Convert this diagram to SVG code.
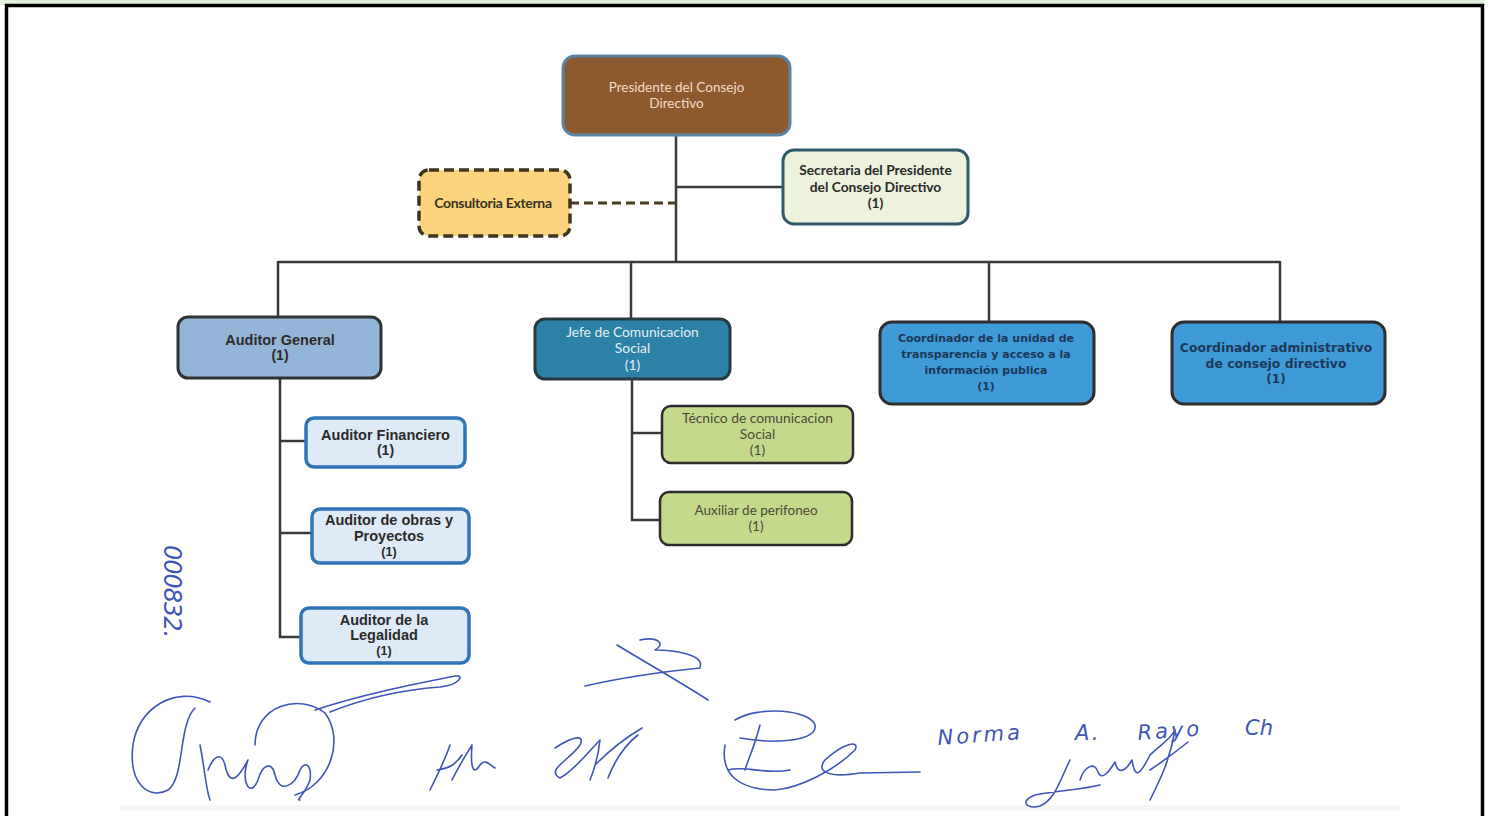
<svg xmlns="http://www.w3.org/2000/svg" width="1488" height="816" viewBox="0 0 1488 816">
<style>
.ln{stroke:#3a3a3a;stroke-width:2.5;fill:none}
.cal{font-family:Lato,"Open Sans","Liberation Sans",sans-serif;text-anchor:middle}
.ari{font-family:"Liberation Sans",Arial,sans-serif;font-weight:bold;text-anchor:middle;fill:#2b2b2b}
.dej{font-family:"DejaVu Sans",Verdana,sans-serif;font-weight:bold;text-anchor:middle;fill:#1d3857}
.pen{stroke:#3f55b8;stroke-width:1.6;fill:none;stroke-linecap:round;stroke-linejoin:round}
.hand{font-family:"DejaVu Sans",sans-serif;font-style:italic;font-weight:normal;fill:#3f55b8}
.aud{fill:#deeaf6;stroke:#2e76b8;stroke-width:3.5}
.tec{fill:#c4d98b;stroke:#2c2c2c;stroke-width:2.5}
.coo{fill:#3f9ad8;stroke:#2e2e2e;stroke-width:3}
</style>
<rect width="1488" height="816" fill="#ffffff"/>
<rect x="0" y="0" width="1484" height="5" fill="#e2efda"/>
<path d="M6.5 816 V5.5 H1482.5 V816" fill="none" stroke="#000" stroke-width="3.5"/>
<rect x="120" y="805" width="1280" height="6" fill="#f5f6f5"/>

<g id="connectors">
<path class="ln" d="M676 135 V262"/>
<path class="ln" d="M676 187 H783"/>
<path d="M570 203 H676" stroke="#4a3d1e" stroke-width="3" stroke-dasharray="9,5" fill="none"/>
<path class="ln" d="M278 262 H1280"/>
<path class="ln" d="M278 261 V316"/>
<path class="ln" d="M631 261 V318"/>
<path class="ln" d="M989 261 V321"/>
<path class="ln" d="M1280 261 V321"/>
<path class="ln" d="M280 378 V637 H300"/>
<path class="ln" d="M280 441 H305"/>
<path class="ln" d="M280 533 H311"/>
<path class="ln" d="M632 379 V520 H659"/>
<path class="ln" d="M632 433 H661"/>
</g>

<g id="presidente">
<rect x="563" y="56" width="227" height="79" rx="12" fill="#8c5a2e" stroke="#5a83a6" stroke-width="3"/>
<text class="cal" x="676.5" y="92" font-size="13.5" fill="#eedccd">Presidente del Consejo</text>
<text class="cal" x="676.5" y="108" font-size="13.5" fill="#eedccd">Directivo</text>
</g>

<g id="secretaria">
<rect x="783" y="150" width="185" height="74" rx="11" fill="#ecf2dc" stroke="#2e5a6a" stroke-width="3"/>
<text class="cal" x="875.5" y="175" font-size="13.8" font-weight="bold" fill="#2b2b2b">Secretaria del Presidente</text>
<text class="cal" x="875.5" y="192" font-size="13.8" font-weight="bold" fill="#2b2b2b">del Consejo Directivo</text>
<text class="cal" x="875.5" y="208" font-size="13.8" font-weight="bold" fill="#2b2b2b">(1)</text>
</g>

<g id="consultoria">
<rect x="419" y="170" width="151" height="66" rx="10" fill="#fbd47d" stroke="#3d3521" stroke-width="3.5" stroke-dasharray="10,5"/>
<text class="cal" x="493" y="208" font-size="14" font-weight="bold" fill="#3a3120" letter-spacing="-0.3">Consultoria Externa</text>
</g>

<g id="auditor-general">
<rect x="178" y="317" width="203" height="61" rx="10" fill="#93b5d8" stroke="#333" stroke-width="3"/>
<text class="ari" x="280" y="345" font-size="14.5" fill="#3a3a3a">Auditor General</text>
<text class="ari" x="280" y="360" font-size="14" fill="#3a3a3a">(1)</text>
</g>

<g id="jefe-comunicacion">
<rect x="535" y="319" width="195" height="60" rx="10" fill="#2c81a7" stroke="#263a44" stroke-width="3"/>
<text class="cal" x="632.5" y="337" font-size="13.8" fill="#e6eef3">Jefe de Comunicacion</text>
<text class="cal" x="632.5" y="353" font-size="13.8" fill="#e6eef3">Social</text>
<text class="cal" x="632.5" y="370" font-size="13.8" fill="#e6eef3">(1)</text>
</g>

<g id="coordinador-transparencia">
<rect x="880" y="322" width="214" height="82" rx="12" class="coo"/>
<text class="dej" x="986" y="342" font-size="11">Coordinador de la unidad de</text>
<text class="dej" x="986" y="358" font-size="11">transparencia y acceso a la</text>
<text class="dej" x="986" y="374" font-size="11">información publica</text>
<text class="dej" x="986" y="390" font-size="11">(1)</text>
</g>

<g id="coordinador-administrativo">
<rect x="1172" y="322" width="213" height="82" rx="12" class="coo"/>
<text class="dej" x="1276" y="352" font-size="12.4">Coordinador administrativo</text>
<text class="dej" x="1276" y="368" font-size="12.4">de consejo directivo</text>
<text class="dej" x="1276" y="383" font-size="12">(1)</text>
</g>

<g id="auditor-financiero">
<rect x="306" y="418" width="159" height="49" rx="8" class="aud"/>
<text class="ari" x="385.5" y="440" font-size="14.5">Auditor Financiero</text>
<text class="ari" x="385.5" y="455" font-size="14">(1)</text>
</g>

<g id="auditor-obras">
<rect x="312" y="509" width="157" height="54" rx="8" class="aud"/>
<text class="ari" x="389" y="525" font-size="14.5">Auditor de obras y</text>
<text class="ari" x="389" y="541" font-size="14.5">Proyectos</text>
<text class="ari" x="389" y="556" font-size="12.5" font-weight="normal" fill="#333">(1)</text>
</g>

<g id="auditor-legalidad">
<rect x="301" y="608" width="168" height="55" rx="8" class="aud"/>
<text class="ari" x="384" y="625" font-size="14.5">Auditor de la</text>
<text class="ari" x="384" y="640" font-size="14.5">Legalidad</text>
<text class="ari" x="384" y="655" font-size="12.5" font-weight="normal" fill="#333">(1)</text>
</g>

<g id="tecnico">
<rect x="662" y="406" width="191" height="57" rx="9" class="tec"/>
<text class="cal" x="757.5" y="423" font-size="13.8" fill="#4a4a3a">Técnico de comunicacion</text>
<text class="cal" x="757.5" y="439" font-size="13.8" fill="#4a4a3a">Social</text>
<text class="cal" x="757.5" y="455" font-size="13.8" fill="#4a4a3a">(1)</text>
</g>

<g id="auxiliar">
<rect x="660" y="492" width="192" height="53" rx="9" class="tec"/>
<text class="cal" x="756" y="515" font-size="13.5" fill="#4a4a3a">Auxiliar de perifoneo</text>
<text class="cal" x="756" y="531" font-size="13.5" fill="#4a4a3a">(1)</text>
</g>

<g id="handwriting">
<text class="hand" transform="translate(164 545) rotate(90)" font-size="24" letter-spacing="-1">000832.</text>
<!-- signature 1 -->
<path class="pen" d="M210 702 C175 685 138 708 133 745 C128 785 150 800 168 790 C185 778 178 725 195 708"/>
<path class="pen" d="M200 745 C205 770 206 790 210 800 M208 770 C214 755 222 752 225 765 C230 790 240 775 248 760 C240 780 250 800 258 780 C262 765 272 760 275 775 C280 795 295 785 300 770 C305 760 312 765 310 780 C305 795 295 800 300 800"/>
<path class="pen" d="M255 745 C255 705 300 693 325 713 C345 740 330 785 295 795"/>
<path class="pen" d="M315 710 C360 695 410 685 455 676 C465 674 460 685 440 687 C400 690 360 700 330 712"/>
<!-- signature 2 -->
<path class="pen" d="M430 790 C440 770 445 760 450 745 M437 770 C450 768 455 765 462 755 M452 780 C462 760 468 752 472 745 C470 770 474 775 480 765 C485 758 490 765 495 768"/>
<!-- signature 3 -->
<path class="pen" d="M555 748 C575 735 585 735 580 745 C570 760 545 770 560 778 C575 770 590 750 600 740 C598 760 592 775 590 780 M595 765 C610 750 625 738 642 728 M608 778 C615 760 625 745 638 735"/>
<!-- signature 4 -->
<path class="pen" d="M585 686 C620 678 660 672 700 668 M617 645 C650 665 680 682 708 700 M640 640 C660 636 665 645 655 650 C675 650 705 655 700 667"/>
<!-- signature 5 -->
<path class="pen" d="M735 720 C760 705 810 710 815 725 C818 740 780 745 740 738 M760 725 C755 745 748 760 745 770 M725 745 C720 775 740 790 775 790 C800 788 835 770 855 750 C860 740 845 742 825 760 C815 772 830 778 860 773 L920 772 M728 770 C745 765 765 775 790 770"/>
<text class="hand" x="938" y="745" font-size="21" transform="rotate(-4 938 745)" letter-spacing="3">Norma</text>
<text class="hand" x="1075" y="740" font-size="21" letter-spacing="2">A.</text>
<text class="hand" x="1138" y="740" font-size="21" transform="rotate(-4 1138 740)" letter-spacing="3">Rayo</text>
<text class="hand" x="1245" y="735" font-size="21">Ch</text>
<!-- signature 6 -->
<path class="pen" d="M1070 760 C1060 780 1055 800 1040 806 C1025 810 1020 800 1035 795 C1060 790 1080 790 1100 785 M1080 780 C1085 765 1095 762 1098 772 C1102 782 1110 770 1115 762 C1118 775 1125 772 1132 760 C1135 780 1140 775 1150 755 C1160 745 1170 740 1175 730 C1170 760 1160 780 1150 800 M1150 770 C1165 760 1178 750 1188 742"/>
</g>
</svg>
